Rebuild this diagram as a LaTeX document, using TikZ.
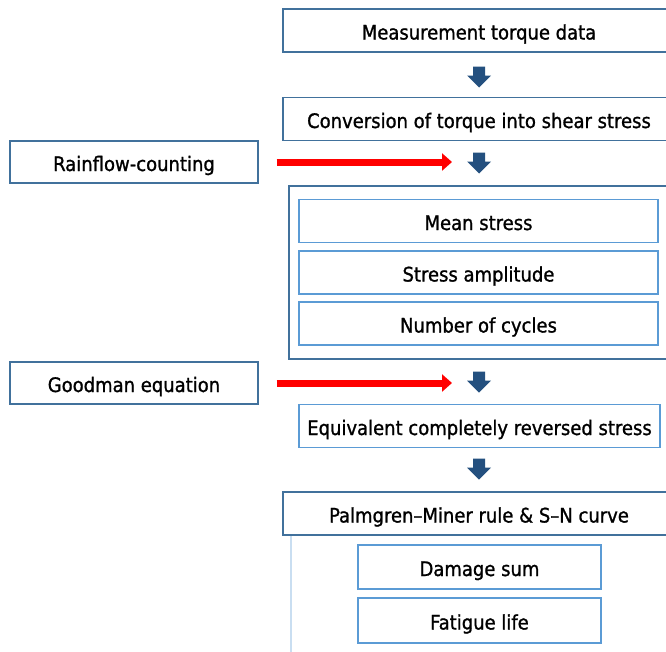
\documentclass[tikz,border=0pt]{standalone}
\usepackage{fontspec}
\IfFontExistsTF{DejaVu Sans Condensed}
  {\setmainfont[FakeBold=1.1]{DejaVu Sans Condensed}\newcommand\fsz{20}}
  {\setmainfont[FakeBold=1.1]{DejaVu Sans}\newcommand\fsz{17.8}}
\usetikzlibrary{arrows.meta}
\definecolor{dkblue}{HTML}{41719C}
\definecolor{ltblue}{HTML}{5B9BD5}
\definecolor{faintblue}{HTML}{C9DEF1}
\definecolor{navyfill}{HTML}{24507F}
\newcommand\blockarrow[2]{%
  \coordinate (#1) at #2;
  \fill[navyfill] (#1) ++(-6,-10.5) -- ++(12,0) -- ++(0,9) -- ++(6,0) -- ++(-12,12) -- ++(-12,-12) -- ++(6,0) -- cycle;
}
\begin{document}
\begin{tikzpicture}[x=1pt,y=-1pt,
  txt/.style={font=\fontsize{\fsz}{20}\selectfont, text=black, inner sep=0pt, text height=18pt, text depth=0pt},
  darkbox/.style={txt, draw=dkblue, line width=1.4pt, fill=white, minimum height=43pt},
  lightbox/.style={txt, draw=ltblue, line width=1.6pt, fill=white, minimum height=43pt},
  redarrow/.style={draw=red, line width=7pt, -{Triangle[length=10pt,width=17pt]}}
]
\useasboundingbox (0,0) rectangle (666,651);
\fill[white] (0,0) rectangle (666,651);

% main column
\node[darkbox, minimum width=392pt] (m1) at (479,30.5) {Measurement torque data};
\blockarrow{a1}{(479,77)}
\node[darkbox, minimum width=392pt] (m2) at (479,119) {Conversion of torque into shear stress};
\blockarrow{a2}{(479,163)}

% container with results of counting
\node[draw=dkblue, line width=1.4pt, minimum width=380pt, minimum height=173pt, inner sep=0pt] (cont) at (479,272.5) {};
\node[lightbox, minimum width=359pt] (ms) at (478.5,221) {Mean stress};
\node[lightbox, minimum width=359pt] (sa) at (478.5,272.5) {Stress amplitude};
\node[lightbox, minimum width=359pt] (nc) at (478.5,323.5) {Number of cycles};

\blockarrow{a3}{(479,382)}
\node[lightbox, minimum width=361pt] (eq) at (479.5,426) {Equivalent completely reversed stress};
\blockarrow{a4}{(479,469)}

% faint container under Palmgren-Miner
\draw[faintblue, line width=1.6pt] (291,535) rectangle (669,700);
\node[darkbox, minimum width=392pt] (pm) at (479,513.5) {Palmgren--Miner rule \& S--N curve};
\node[lightbox, minimum width=243pt, minimum height=44pt] (ds) at (479.5,567) {Damage sum};
\node[lightbox, minimum width=243pt, minimum height=45pt] (fl) at (479.5,620.5) {Fatigue life};

% side inputs
\node[darkbox, minimum width=248pt, minimum height=42pt] (rf) at (134,162) {Rainflow-counting};
\node[darkbox, minimum width=248pt, minimum height=42pt] (gm) at (134,383) {Goodman equation};
\draw[redarrow, shorten <=18pt, shorten >=27pt] (rf.east) -- (rf.east -| a2);
\draw[redarrow, shorten <=18pt, shorten >=27pt] (gm.east) -- (gm.east -| a3);
\end{tikzpicture}
\end{document}
